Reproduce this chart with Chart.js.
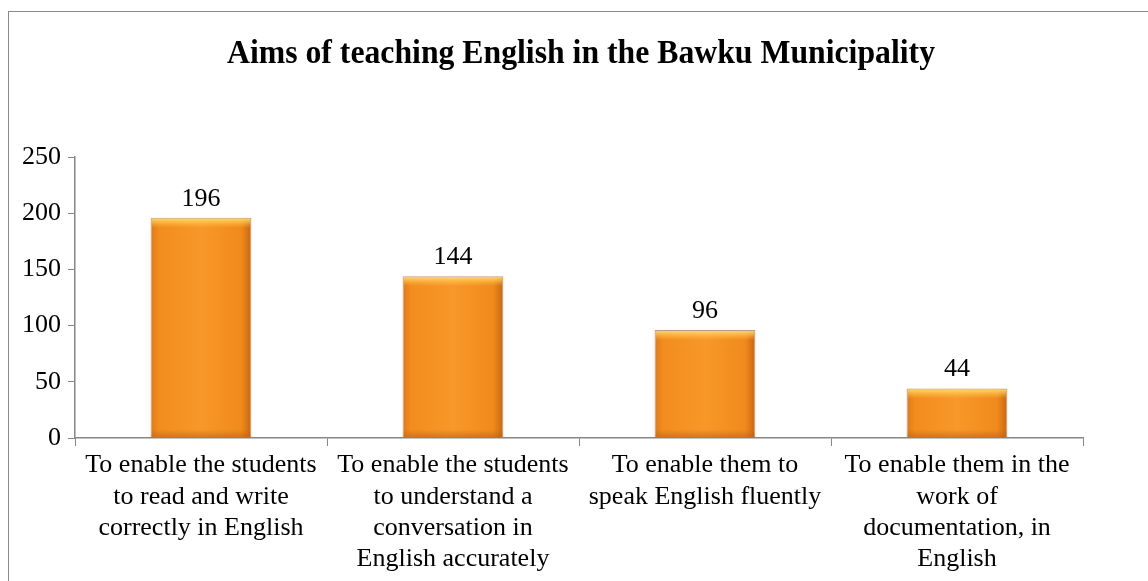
<!DOCTYPE html>
<html>
<head>
<meta charset="utf-8">
<script src="https://cdn.jsdelivr.net/npm/chart.js@4/dist/chart.umd.min.js"></script>
<style>
  html, body { margin: 0; padding: 0; background: #fff; }
  #wrap { width: 1148px; height: 581px; position: relative; }
</style>
</head>
<body>
<div id="wrap"><canvas id="chart" width="1148" height="581"></canvas></div>
<script>
// ── data ──────────────────────────────
const CATEGORIES = [
  ["To enable the students", "to read and write", "correctly in English"],
  ["To enable the students", "to understand a", "conversation in", "English accurately"],
  ["To enable them to", "speak English fluently"],
  ["To enable them in the", "work of", "documentation, in", "English"],
];
const VALUES = [196, 144, 96, 44];
const Y_MIN = 0;
const Y_MAX = 250;
const Y_STEP = 50;

const TITLE = "Aims of teaching English in the Bawku Municipality";

// ── styles ────────────────────────────
const FONT_FAMILY = "\"Liberation Serif\", \"Times New Roman\", Times, serif";
const AXIS_COLOR = "#868686";
const BAR_FRACTION = 0.4;

// horizontal orange gradient across each bar
function barFill(c) {
  const chart = c.chart;
  const xs = chart.scales.x;
  if (!xs || !chart.chartArea) return "#F7961E";
  const cx = xs.getPixelForValue(c.dataIndex);
  const half = (xs.width / CATEGORIES.length) * BAR_FRACTION / 2;
  const g = chart.ctx.createLinearGradient(cx - half, 0, cx + half, 0);
  g.addColorStop(0, "#E07A16");
  g.addColorStop(0.08, "#F28C1E");
  g.addColorStop(0.5, "#F8982A");
  g.addColorStop(0.9, "#F08A1C");
  g.addColorStop(1, "#C8660F");
  return g;
}

// outer frame + bold title (centred on the page, not the plot)
const framePlugin = {
  id: "frame",
  beforeDraw(chart) {
    const ctx = chart.ctx;
    ctx.save();
    ctx.fillStyle = "#fff";
    ctx.fillRect(0, 0, chart.width, chart.height);
    ctx.strokeStyle = "#8a8a8a";
    ctx.lineWidth = 1;
    ctx.strokeRect(8.5, 11.5, chart.width + 20, chart.height + 20);

    ctx.font = "bold 34px " + FONT_FAMILY;
    ctx.fillStyle = "#000";
    ctx.textAlign = "center";
    ctx.textBaseline = "alphabetic";
    const natural = ctx.measureText(TITLE).width;
    const sx = Math.min(1, 708 / natural);
    ctx.translate(581, 63);
    ctx.scale(sx, 1);
    ctx.fillText(TITLE, 0, 0);
    ctx.restore();
  },
};

// bevel highlight at top and shade at bottom of bars
const bevelPlugin = {
  id: "bevel",
  afterDatasetsDraw(chart) {
    const ctx = chart.ctx;
    const meta = chart.getDatasetMeta(0);
    ctx.save();
    meta.data.forEach((bar) => {
      const l = bar.x - bar.width / 2;
      const top = bar.y;
      const w = bar.width;
      const bottom = bar.base;
      const gt = ctx.createLinearGradient(0, top, 0, top + 10);
      gt.addColorStop(0, "rgba(255,225,110,1)");
      gt.addColorStop(1, "rgba(255,200,80,0)");
      ctx.fillStyle = gt;
      ctx.fillRect(l + 1, top + 1, w - 2, 10);
      const gb = ctx.createLinearGradient(0, bottom - 8, 0, bottom);
      gb.addColorStop(0, "rgba(200,100,20,0)");
      gb.addColorStop(1, "rgba(190,95,20,0.6)");
      ctx.fillStyle = gb;
      ctx.fillRect(l + 1, bottom - 8, w - 2, 8);
    });
    ctx.restore();
  },
};

// value labels above bars
const valueLabelPlugin = {
  id: "valueLabels",
  afterDatasetsDraw(chart) {
    const ctx = chart.ctx;
    const meta = chart.getDatasetMeta(0);
    ctx.save();
    ctx.font = "26px " + FONT_FAMILY;
    ctx.fillStyle = "#000";
    ctx.textAlign = "center";
    ctx.textBaseline = "bottom";
    meta.data.forEach((bar, i) => {
      ctx.fillText(String(VALUES[i]), bar.x, bar.y - 6);
    });
    ctx.restore();
  },
};

function drawChart() {
  new Chart(document.getElementById("chart"), {
    type: "bar",
    data: {
      labels: CATEGORIES,
      datasets: [{
        data: VALUES,
        backgroundColor: barFill,
        borderColor: "rgba(170,110,90,0.7)",
        borderWidth: 1,
        categoryPercentage: 1,
        barPercentage: BAR_FRACTION,
      }],
    },
    options: {
      responsive: false,
      animation: false,
      events: [],
      layout: { padding: { left: 8, right: 65, top: 157, bottom: 0 } },
      plugins: {
        legend: { display: false },
        tooltip: { enabled: false },
        title: { display: false },
      },
      scales: {
        x: {
          grid: {
            display: true,
            offset: true,
            drawOnChartArea: false,
            drawTicks: true,
            tickLength: 8,
            color: AXIS_COLOR,
          },
          border: { display: true, color: AXIS_COLOR, width: 1.5 },
          ticks: {
            color: "#000",
            font: { family: FONT_FAMILY, size: 26, lineHeight: 1.2 },
            padding: 4,
            maxRotation: 0,
            autoSkip: false,
          },
          afterFit(scale) { scale.height = 143; },
        },
        y: {
          min: Y_MIN,
          max: Y_MAX,
          grid: {
            display: true,
            drawOnChartArea: false,
            drawTicks: true,
            tickLength: 7,
            color: AXIS_COLOR,
          },
          border: { display: true, color: AXIS_COLOR, width: 1.5 },
          ticks: {
            stepSize: Y_STEP,
            color: "#000",
            font: { family: FONT_FAMILY, size: 26 },
            padding: 7,
          },
          afterFit(scale) { scale.width = 67; },
        },
      },
    },
    plugins: [framePlugin, bevelPlugin, valueLabelPlugin],
  });
}

// make sure the serif face is ready before drawing
Promise.all([
  document.fonts.load("26px \"Liberation Serif\""),
  document.fonts.load("bold 34px \"Liberation Serif\""),
]).catch(() => {}).then(drawChart);
</script>
</body>
</html>
